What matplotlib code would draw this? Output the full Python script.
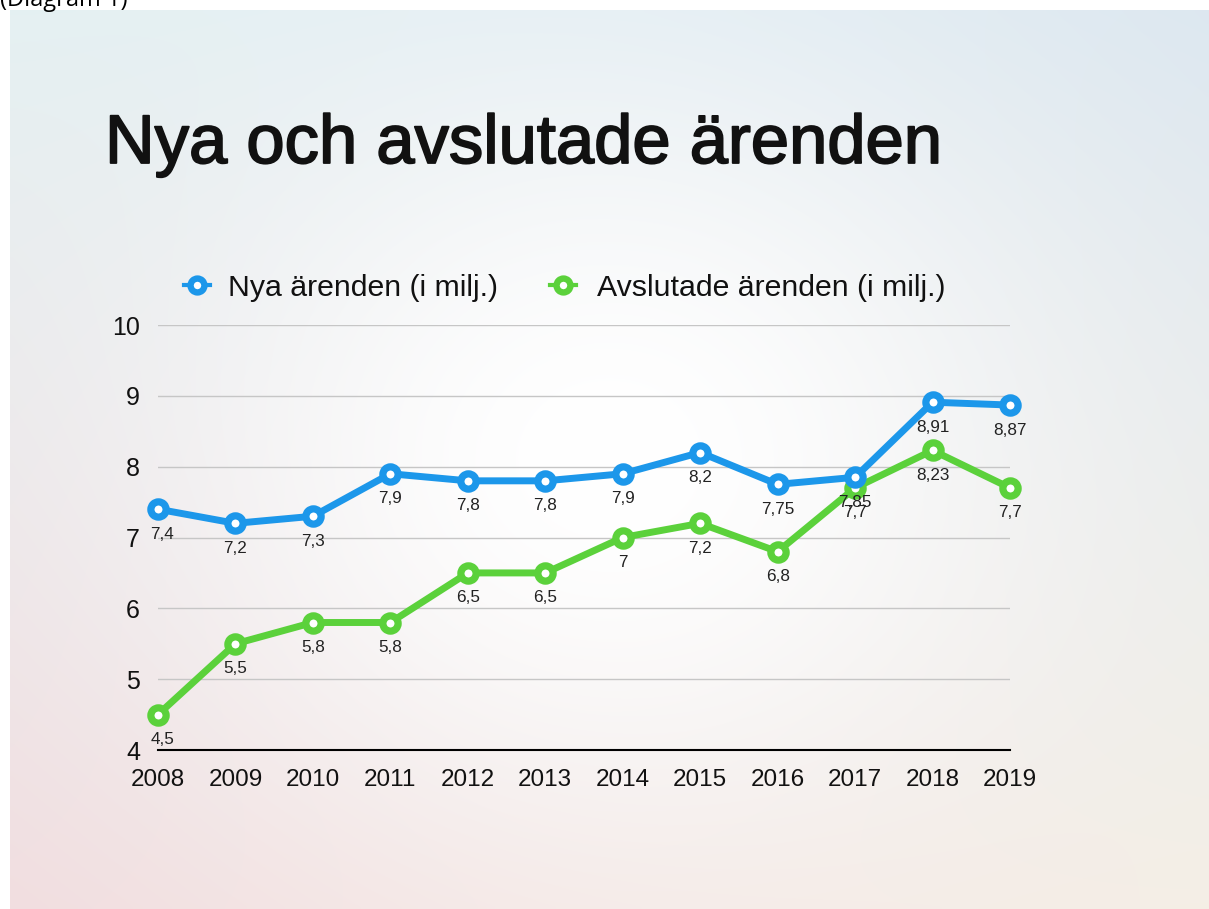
import numpy as np
import matplotlib
matplotlib.use("Agg")
import matplotlib.pyplot as plt
from matplotlib.lines import Line2D
import matplotlib.patheffects as pe

years = [2008, 2009, 2010, 2011, 2012, 2013, 2014, 2015, 2016, 2017, 2018, 2019]
nya = [7.4, 7.2, 7.3, 7.9, 7.8, 7.8, 7.9, 8.2, 7.75, 7.85, 8.91, 8.87]
avslutade = [4.5, 5.5, 5.8, 5.8, 6.5, 6.5, 7.0, 7.2, 6.8, 7.7, 8.23, 7.7]
nya_labels = ["7,4", "7,2", "7,3", "7,9", "7,8", "7,8", "7,9", "8,2", "7,75", "7,85", "8,91", "8,87"]
avs_labels = ["4,5", "5,5", "5,8", "5,8", "6,5", "6,5", "7", "7,2", "6,8", "7,7", "8,23", "7,7"]
yticks = [4, 5, 6, 7, 8, 9, 10]
title = "Nya och avslutade ärenden"
legend_labels = ["Nya ärenden (i milj.)", "Avslutade ärenden (i milj.)"]

BLUE = "#1C97EA"
GREEN = "#5BD13B"
FONT = ["Liberation Sans", "DejaVu Sans"]
plt.rcParams["font.family"] = FONT

W, H = 1209, 909
fig = plt.figure(figsize=(W / 100, H / 100), dpi=100)
fig.patch.set_facecolor("white")

# background gradient of the slide
bg = fig.add_axes([10 / W, 0, 1 - 10 / W, 1 - 10 / H], zorder=-10)
ny, nx = 200, 260
yy, xx = np.mgrid[0:1:ny * 1j, 0:1:nx * 1j]
TL = np.array([228, 240, 242]) / 255
TR = np.array([220, 231, 240]) / 255
BL = np.array([241, 221, 223]) / 255
BR = np.array([244, 238, 229]) / 255
img = ((1 - xx)[..., None] * (1 - yy)[..., None] * TL + xx[..., None] * (1 - yy)[..., None] * TR
       + (1 - xx)[..., None] * yy[..., None] * BL + xx[..., None] * yy[..., None] * BR)
w = np.exp(-(((xx - 0.5) / 0.36) ** 2 + ((yy - 0.5) / 0.42) ** 2))
img = img * (1 - w[..., None]) + w[..., None] * 1.0
bg.imshow(img, aspect="auto", extent=[0, 1, 0, 1], origin="upper", interpolation="bilinear")
bg.axis("off")

fig.text(0, 1 - 6 / H, "(Diagram 1)", fontsize=17, va="baseline", ha="left",
         family=["Open Sans", "DejaVu Sans"], color="black")

fig.text(105 / W, 1 - 163 / H, title, fontsize=49.5, va="baseline", ha="left", color="#111111",
         path_effects=[pe.withStroke(linewidth=1.3, foreground="#111111")])

ax = fig.add_axes([158 / W, 1 - 750 / H, (1010 - 158) / W, (750 - 325) / H])
ax.patch.set_alpha(0)
ax.set_xlim(2008, 2019)
ax.set_ylim(4, 10)
for s in ["top", "right", "left"]:
    ax.spines[s].set_visible(False)
ax.spines["bottom"].set_color("black")
ax.spines["bottom"].set_linewidth(1.5)
ax.set_yticks(yticks)
ax.set_yticklabels([str(v) for v in yticks])
ax.set_xticks(years)
ax.set_xticklabels([str(y) for y in years])
ax.tick_params(axis="y", length=0, pad=13, labelsize=18, labelcolor="#111111")
ax.tick_params(axis="x", length=0, pad=14, labelsize=17.5, labelcolor="#111111")
for v in yticks[1:]:
    ax.axhline(v, color="#c6c6c6", lw=1.0, zorder=1)

mk = dict(marker="o", markersize=11, markerfacecolor="white", markeredgewidth=5.2, lw=5, clip_on=False,
          solid_joinstyle="round")
ax.plot(years, nya, color=BLUE, markeredgecolor=BLUE, zorder=4, **mk)
ax.plot(years, avslutade, color=GREEN, markeredgecolor=GREEN, zorder=3, **mk)

for i, (x, y, t) in enumerate(zip(years, nya, nya_labels)):
    dx = 3 if i == 0 else 0
    ax.annotate(t, (x, y), xytext=(dx, -18), textcoords="offset points", ha="center", va="center",
                fontsize=12.3, color="#222222", zorder=5, annotation_clip=False)
for i, (x, y, t) in enumerate(zip(years, avslutade, avs_labels)):
    dx = 3 if i == 0 else 0
    ax.annotate(t, (x, y), xytext=(dx, -18), textcoords="offset points", ha="center", va="center",
                fontsize=12.3, color="#222222", zorder=5, annotation_clip=False)

# legend
for cx, tx, col, lab in [(197, 228, BLUE, legend_labels[0]), (563, 597, GREEN, legend_labels[1])]:
    fig.add_artist(Line2D([(cx - 13) / W, (cx + 13) / W], [1 - 285 / H] * 2, color=col, lw=3,
                          transform=fig.transFigure))
    fig.add_artist(Line2D([cx / W], [1 - 285 / H], marker="o", markersize=10, markerfacecolor="white",
                          markeredgecolor=col, markeredgewidth=4.6, transform=fig.transFigure))
    fig.text(tx / W, 1 - 285 / H, lab, fontsize=21.8, va="center_baseline", ha="left", color="#111111")

fig.savefig("out.png", dpi=100)
